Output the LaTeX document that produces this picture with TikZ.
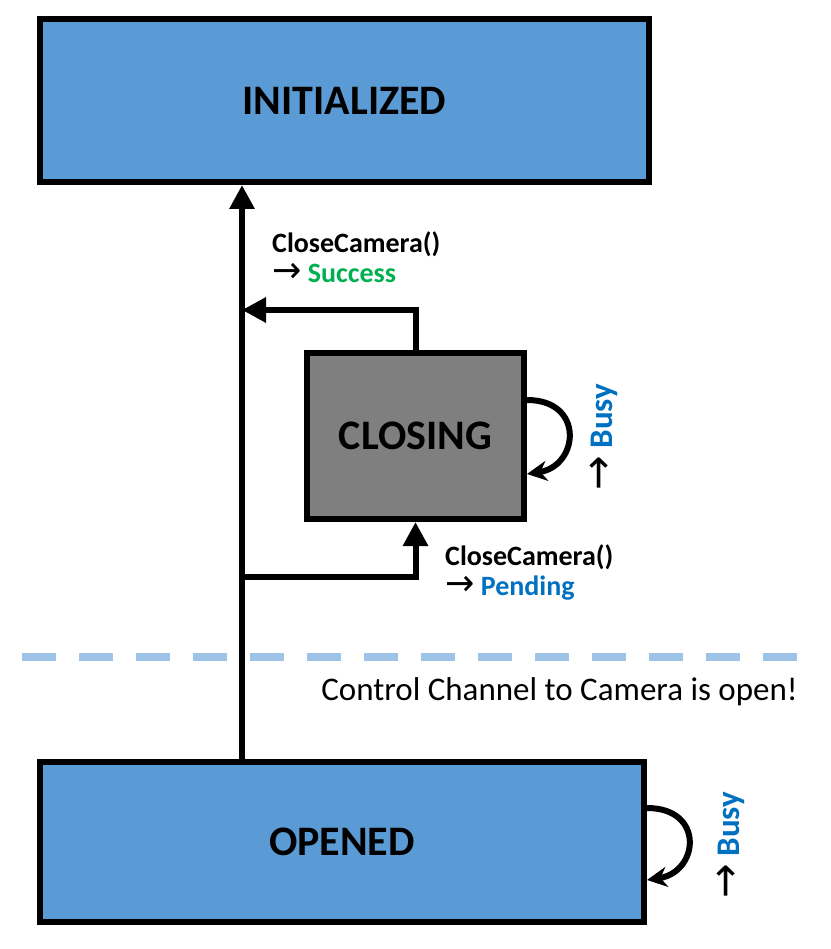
\documentclass[tikz,border=0pt]{standalone}
\usepackage{fontspec}
\setmainfont{Carlito}
\newfontfamily\arrowfont{DejaVu Sans}
\usepackage{tikz}
\usetikzlibrary{arrows.meta,positioning,calc}
\definecolor{statefill}{HTML}{5B9BD5}
\definecolor{busyfill}{HTML}{7F7F7F}
\definecolor{okgreen}{HTML}{00B050}
\definecolor{infoblue}{HTML}{0070C0}
\definecolor{chanline}{HTML}{9DC3E6}
\newcommand{\resultarrow}{\scalebox{1.25}[1.3]{\arrowfont\mdseries →}}

\begin{document}
\begin{tikzpicture}[x=1pt,y=-1pt,
  state/.style={draw, line width=6pt, fill=statefill, inner sep=0pt,
    font=\fontsize{42}{50}\selectfont\bfseries},
  flow/.style={line width=6pt, -{Triangle[length=24pt,width=24pt]}},
  selfloop/.style={line width=6pt, -{Stealth[length=20pt,width=20pt]}},
  lbl/.style={font=\fontsize{28}{30}\selectfont\bfseries, inner sep=0pt, anchor=base west},
  busylbl/.style={font=\fontsize{33}{36}\selectfont\bfseries, inner sep=0pt, rotate=90},
  note/.style={font=\fontsize{33}{36}\selectfont, inner sep=0pt}]
  \useasboundingbox (0,0) rectangle (830,949);

  % states
  \node[state, minimum width=609pt, minimum height=163pt] (init) at (344.5,100.5) {INITIALIZED};
  \node[state, fill=busyfill, minimum width=217pt, minimum height=166pt] (closing) at (415.5,436) {CLOSING};
  \node[state, minimum width=604pt, minimum height=160pt] (opened) at (342,842) {OPENED};

  % trunk and branches
  \coordinate (trunk) at (242,0);
  \coordinate (upjoin) at (242,310);
  \coordinate (lowjoin) at (242,577);
  \draw[flow] (opened.north -| trunk) -- (init.south -| trunk);
  \draw[flow] (closing.north) |- (upjoin);
  \draw[flow] (lowjoin) -| (closing.south);

  % self loops
  \draw[selfloop] ([yshift=36pt]closing.east) .. controls +(58,0) and +(52,-8) .. ([yshift=-38pt]closing.east);
  \draw[selfloop] ([yshift=34pt]opened.east) .. controls +(58,0) and +(52,-8) .. ([yshift=-38pt]opened.east);

  % labels
  \node[lbl] (okcall) at (272,253) {CloseCamera()};
  \node[lbl] (okres) at (272,283) {\resultarrow{} \textcolor{okgreen}{Success}};
  \node[lbl] (pendcall) at (445,565) {CloseCamera()};
  \node[lbl] (pendres) at (445,595) {\resultarrow{} \textcolor{infoblue}{Pending}};
  \node[busylbl] (busyc) at (604,437) {\resultarrow{} \textcolor{infoblue}{Busy}};
  \node[busylbl] (busyo) at (731,845) {\resultarrow{} \textcolor{infoblue}{Busy}};

  % channel boundary
  \coordinate (chanl) at (22,657);
  \coordinate (chanr) at (810,657);
  \draw[chanline, line width=8pt, dash pattern=on 34pt off 23pt] (chanl) -- (chanr);
  \node[note, anchor=east] (channote) at (798,692) {Control Channel to Camera is open!};
\end{tikzpicture}
\end{document}
